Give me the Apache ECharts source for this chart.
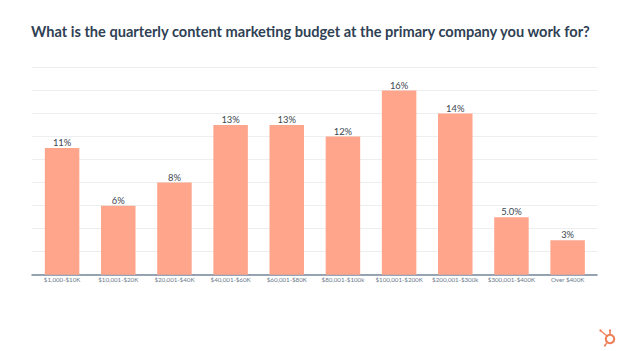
<!DOCTYPE html>
<html>
<head>
<meta charset="utf-8">
<style>
	html, body { margin: 0; padding: 0; background: #fff; }
	#chart { width: 624px; height: 351px; }
</style>
<script src="https://cdn.jsdelivr.net/npm/echarts@6/dist/echarts.min.js"></script>
</head>
<body>
<div id="chart"></div>
<script>
const titleText = 'What is the quarterly content marketing budget at the primary company you work for?'
const categories = ['$1,000-$10K', '$10,001-$20K', '$20,001-$40K', '$40,001-$60K', '$60,001-$80K', '$80,001-$100k', '$100,001-$200K', '$200,001-$300k', '$300,001-$400K', 'Over $400K']
const values = [11, 6, 8, 13, 13, 12, 16, 14, 5, 3]
const valueLabels = ['11%', '6%', '8%', '13%', '13%', '12%', '16%', '14%', '5.0%', '3%']

const chart = echarts.init(document.getElementById('chart'), null, { renderer: 'svg' })

chart.setOption({
	animation: false,
	backgroundColor: '#ffffff',
	title: {
		text: titleText,
		left: 31,
		top: 24,
		padding: 0,
		textStyle: {
			fontFamily: 'Lato',
			fontSize: 14.6,
			fontWeight: 700,
			color: '#2f4154'
		}
	},
	// first grid only carries the rules, the bars sit a little inset in the second
	grid: [
		{ left: 32, right: 27, top: 67.5, bottom: 76.3 },
		{ left: 34, right: 28.3, top: 67.5, bottom: 76.3 }
	],
	xAxis: [{
		type: 'category',
		gridIndex: 0,
		data: categories,
		axisTick: { show: false },
		axisLine: { lineStyle: { color: '#76879b', width: 1.5 } },
		axisLabel: { show: false }
	}, {
		type: 'category',
		gridIndex: 1,
		data: categories,
		axisTick: { show: false },
		axisLine: { show: false },
		axisLabel: {
			interval: 0,
			margin: 2,
			fontFamily: 'Lato',
			fontSize: 6.2,
			color: '#6b7a8a'
		}
	}],
	yAxis: [{
		type: 'value',
		gridIndex: 0,
		min: 0,
		max: 18,
		interval: 2,
		axisLine: { show: false },
		axisTick: { show: false },
		axisLabel: { show: false },
		splitLine: { lineStyle: { color: '#eceef0', width: 1 } }
	}, {
		type: 'value',
		gridIndex: 1,
		min: 0,
		max: 18,
		interval: 2,
		axisLine: { show: false },
		axisTick: { show: false },
		axisLabel: { show: false },
		splitLine: { show: false }
	}],
	series: [{
		type: 'bar',
		xAxisIndex: 1,
		yAxisIndex: 1,
		data: values,
		barWidth: 34.5,
		itemStyle: { color: '#ffa58c' },
		label: {
			show: true,
			position: 'top',
			distance: 1,
			fontFamily: 'Lato',
			fontSize: 9.4,
			color: '#3c4650',
			formatter: (p) => valueLabels[p.dataIndex]
		}
	}],
	// sprocket logo, bottom right
	graphic: [
		{ type: 'circle', shape: { cx: 610, cy: 339, r: 4.2 }, style: { fill: 'none', stroke: '#f0805a', lineWidth: 2.2 } },
		{ type: 'line', shape: { x1: 601, y1: 331, x2: 607, y2: 336 }, style: { stroke: '#f0805a', lineWidth: 1.4 } },
		{ type: 'line', shape: { x1: 610, y1: 334, x2: 610, y2: 331 }, style: { stroke: '#f0805a', lineWidth: 1.6 } },
		{ type: 'line', shape: { x1: 607, y1: 343, x2: 605, y2: 345 }, style: { stroke: '#f0805a', lineWidth: 1.4 } },
		{ type: 'circle', shape: { cx: 600.5, cy: 330.5, r: 1.2 }, style: { fill: '#f0805a' } },
		{ type: 'circle', shape: { cx: 610, cy: 330.5, r: 1.2 }, style: { fill: '#f0805a' } },
		{ type: 'circle', shape: { cx: 605, cy: 345.5, r: 1.1 }, style: { fill: '#f0805a' } }
	]
})
</script>
</body>
</html>
